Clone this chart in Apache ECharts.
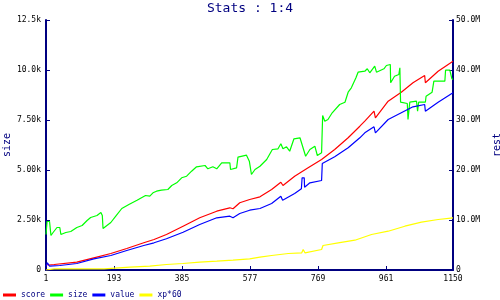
<!DOCTYPE html>
<html>
<head>
<meta charset="utf-8">
<script src="https://cdn.jsdelivr.net/npm/echarts@6/dist/echarts.min.js"></script>
<style>html,body{margin:0;padding:0;background:#fff}#c{width:500px;height:300px}</style>
</head>
<body>
<div id="c"></div>
<script>
// x ticks (turn numbers)
const xTicks = [1, 193, 385, 577, 769, 961, 1150];
const seriesNames = ['score', 'size', 'value', 'xp*60'];

// size (left axis, raw)
const sizeData = [
 [1,1775],[4,2425],[11,2425],[15,1725],[21,1875],[32,2125],[40,2125],[43,1775],[57,1875],[71,1925],
 [88,2125],[103,2225],[117,2475],[127,2625],[136,2675],[145,2725],[156,2875],[160,2725],[162,2075],
 [184,2375],[198,2690],[215,3075],[235,3275],[258,3490],[282,3725],[294,3690],[303,3860],[313,3940],
 [327,3990],[345,4025],[356,4225],[370,4360],[384,4610],[398,4690],[412,4940],[426,5160],[450,5225],
 [458,5060],[472,5160],[483,5060],[497,5360],[520,5360],[522,5025],[539,5110],[543,5640],[567,5740],
 [575,5440],[581,4775],[591,5025],[605,5190],[624,5525],[640,6025],[656,6060],[664,6310],[670,6060],
 [680,6160],[689,5940],[701,6560],[718,6610],[734,5690],[746,6025],[760,6190],[767,5725],[779,5860],
 [782,7725],[788,7440],[797,7525],[809,7860],[830,8275],[845,8390],[854,8890],[863,9110],[876,9610],
 [882,9890],[901,9940],[908,10060],[915,9860],[929,10190],[934,9890],[955,10060],[962,10225],[973,10275],
 [974,9360],[985,9690],[997,9775],[1000,10110],[1002,8390],[1021,8325],[1023,7525],[1028,8390],[1047,8440],
 [1050,7940],[1053,8390],[1072,8390],[1074,8690],[1091,8890],[1096,9440],[1127,9440],[1129,9990],
 [1141,9990],[1147,9560],[1150,9525]
];

// score (right axis, millions)
const scoreData = [
 [1,1.1],[4,1.44],[9,1.0],[24,1.1],[88,1.56],[136,2.44],[184,3.3],[229,4.3],[277,5.44],[306,6.1],
 [341,7.1],[388,8.76],[435,10.44],[483,11.76],[520,12.44],[529,12.24],[548,13.44],[576,14.1],[605,14.64],
 [638,16.1],[664,17.56],[670,16.9],[703,18.76],[741,20.44],[779,22.1],[816,24.1],[854,26.44],[887,28.76],
 [901,29.76],[927,31.76],[931,30.44],[967,33.76],[1004,35.56],[1037,37.44],[1070,38.9],[1072,37.44],
 [1108,39.76],[1150,41.76]
];

// value (right axis, millions)
const valueData = [
 [1,0.76],[5,1.44],[11,0.76],[40,0.9],[88,1.3],[136,2.24],[184,2.9],[229,3.9],[277,4.9],[306,5.44],
 [341,6.24],[388,7.56],[435,9.1],[483,10.44],[520,10.76],[529,10.44],[548,11.3],[576,11.96],[605,12.3],
 [638,13.3],[664,14.76],[669,13.96],[703,15.3],[722,16.24],[724,18.44],[730,18.44],[731,16.56],[746,17.44],
 [779,17.9],[781,21.3],[816,22.64],[854,24.44],[887,26.44],[901,27.44],[927,28.64],[931,27.44],[967,30.1],
 [1004,31.44],[1037,32.64],[1070,33.1],[1072,31.76],[1108,33.56],[1150,35.44]
];

// xp*60 (right axis, millions)
const xpData = [
 [1,0],[4,0.3],[24,0.24],[165,0.24],[167,0.56],[238,0.56],[241,0.76],[294,0.76],[341,1.1],[387,1.3],
 [435,1.56],[483,1.76],[529,1.96],[576,2.24],[605,2.56],[638,2.9],[685,3.3],[723,3.44],[727,4.1],[732,3.44],
 [779,4.1],[783,4.9],[826,5.44],[873,5.96],[920,7.1],[967,7.76],[1014,8.76],[1061,9.56],[1108,10.1],[1150,10.44]
];

const NAVY = '#000080';
const MONO = 'DejaVu Sans Mono';

function fmtK(v){ return v === 0 ? '0' : (v/1000).toPrecision(3) + 'k'; }
function fmtM(v){ return v === 0 ? '0' : (v).toPrecision(3) + 'M'; }

const chart = echarts.init(document.getElementById('c'), null, {renderer:'canvas'});
const axisCommon = {
  axisLine: {show:true, lineStyle:{color:NAVY, width:2}},
  axisTick: {show:true, inside:true, length:4, lineStyle:{color:NAVY, width:1}},
  splitLine: {show:false},
  axisLabel: {color:'#000', fontFamily:MONO, fontSize:8}
};
chart.setOption({
  animation:false,
  backgroundColor:'#fff',
  title:{text:'Stats : 1:4', left:'center', top:1, padding:0, textStyle:{color:NAVY, fontFamily:MONO, fontSize:13, fontWeight:'normal', lineHeight:16}},
  grid:{left:46, right:47, top:20, bottom:30, containLabel:false, outerBoundsMode:'none'},
  legend:{
    left:3, top:291, padding:0, icon:'rect', itemWidth:13, itemHeight:3, itemGap:5,
    textStyle:{color:NAVY, fontFamily:MONO, fontSize:8, width:26},
    data: seriesNames
  },
  xAxis:{
    type:'value', min:1, max:1150,
    axisLine: axisCommon.axisLine, splitLine:{show:false},
    axisTick:{show:true, inside:true, length:4, lineStyle:{color:NAVY}, customValues:xTicks},
    axisLabel:{color:'#000', fontFamily:MONO, fontSize:8, margin:5, customValues:xTicks, formatter:v=>String(v)}
  },
  yAxis:[
    Object.assign({}, axisCommon, {type:'value', min:0, max:12500, interval:2500, name:'size', nameLocation:'middle', nameGap:34, nameMoveOverlap:false,
      nameTextStyle:{color:NAVY, fontFamily:MONO, fontSize:10},
      axisLabel:{color:'#000', fontFamily:MONO, fontSize:8, margin:5, formatter:fmtK}}),
    Object.assign({}, axisCommon, {type:'value', min:0, max:50, interval:10, position:'right', name:'rest', nameLocation:'middle', nameGap:39, nameMoveOverlap:false,
      nameTextStyle:{color:NAVY, fontFamily:MONO, fontSize:10},
      axisLabel:{color:'#000', fontFamily:MONO, fontSize:8, margin:3, formatter:fmtM}})
  ],
  series:[
    {name:'score', type:'line', yAxisIndex:1, data:scoreData, showSymbol:false, color:'#ff0000', lineStyle:{width:1.2}},
    {name:'size', type:'line', yAxisIndex:0, data:sizeData, showSymbol:false, color:'#00ff00', lineStyle:{width:1.2}},
    {name:'value', type:'line', yAxisIndex:1, data:valueData, showSymbol:false, color:'#0000ff', lineStyle:{width:1.2}},
    {name:'xp*60', type:'line', yAxisIndex:1, data:xpData, showSymbol:false, color:'#ffff00', lineStyle:{width:1.2}}
  ]
});
</script>
</body>
</html>
